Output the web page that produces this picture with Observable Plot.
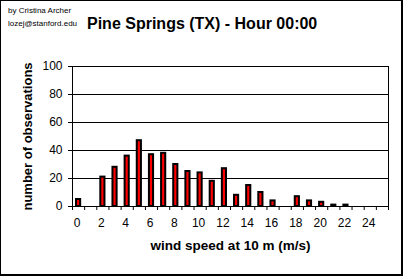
<!DOCTYPE html>
<html><head><meta charset="utf-8">
<script src="https://cdn.jsdelivr.net/npm/d3@7"></script>
<script src="https://cdn.jsdelivr.net/npm/@observablehq/plot@0.6"></script>
<style>
body{margin:0;background:#fff;}
#wrap{position:relative;width:404px;height:277px;overflow:hidden;font-family:Arial,"Liberation Sans",sans-serif;color:#000;}
#frame{position:absolute;left:0;top:0;width:403px;height:276px;box-sizing:border-box;border-style:solid;border-color:#000;border-width:1px 2px 2px 1px;pointer-events:none;}
.credit{position:absolute;left:8px;font-size:8px;line-height:1;white-space:nowrap;}
#title{position:absolute;left:87px;top:16px;font-size:16px;line-height:1;font-weight:bold;white-space:nowrap;}
#chart{position:absolute;left:0;top:36px;}
</style></head><body>
<div id="wrap">
 <div class="credit" style="top:7px">by Cristina Archer</div>
 <div class="credit" style="top:20px">lozej@stanford.edu</div>
 <div id="title">Pine Springs (TX) - Hour 00:00</div>
 <div id="chart"></div>
 <div id="frame"></div>
</div>
<script>
const speeds = [0,1,2,3,4,5,6,7,8,9,10,11,12,13,14,15,16,17,18,19,20,21,22,23,24,25];
const counts = [5,0,21,28,36,47,37,38,30,25,24,18,27,8,15,10,4,0,7,4,3,1,1,0,0,0];
const yTicks = [0,20,40,60,80,100];
const xTickLabels = [0,2,4,6,8,10,12,14,16,18,20,22,24];
const xBoundaries = [0,1,2,3,4,5,6,7,8,9,10,11,12,13,14,15,16,17,18,19,20,21,22,23,24,25,26];
const yTitle = "number of observations";
const xTitle = "wind speed at 10 m (m/s)";

const data = speeds.map((s, i) => ({speed: s, count: counts[i]})).filter(d => d.count > 0);

const chart = Plot.plot({
  width: 404, height: 241,
  marginLeft: 72, marginRight: 16, marginTop: 30, marginBottom: 71,
  style: {background: "none", fontFamily: "Arial, 'Liberation Sans', sans-serif", fontSize: "12px", color: "#000"},
  x: {type: "linear", domain: [0, 26]},
  y: {domain: [0, 100]},
  marks: [
    Plot.ruleY(yTicks, {stroke: "#000"}),
    Plot.ruleX([0, 26], {stroke: "#000"}),
    Plot.axisY(yTicks, {tickSize: 4, tickPadding: 6, label: null, fontSize: 12}),
    Plot.axisX(xBoundaries, {tickSize: 4, tickFormat: () => "", label: null}),
    Plot.axisX(xTickLabels.map(v => v + 0.5), {tickSize: 0, tickPadding: 12, dx: -1.5, tickFormat: d => String(d - 0.5), label: null, fontSize: 12}),
    Plot.rectY(data, {x1: "speed", x2: d => d.speed + 1, y: "count", fill: "#ff0000", stroke: "#000", strokeWidth: 2, insetLeft: 4, insetRight: 4}),
    Plot.text([yTitle], {frameAnchor: "left", textAnchor: "middle", rotate: -90, dx: -45, fontWeight: "bold", fontSize: 13}),
    Plot.text([xTitle], {frameAnchor: "bottom", textAnchor: "middle", dy: 43, fontWeight: "bold", fontSize: 13.5})
  ]
});
document.getElementById("chart").appendChild(chart);
</script>
</body></html>
